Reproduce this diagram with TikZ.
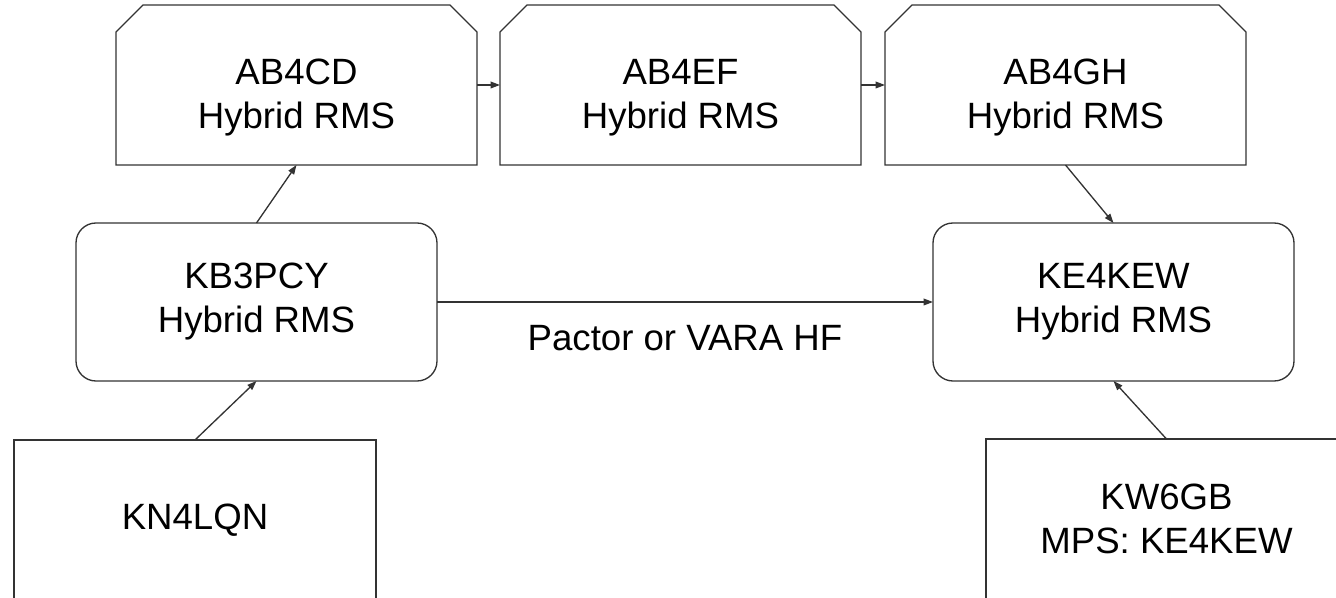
\documentclass[tikz,border=0pt]{standalone}
\usepackage{fontspec}
\setmainfont{Liberation Sans}
\usetikzlibrary{arrows.meta,calc}
\begin{document}
\begin{tikzpicture}[x=0.75pt,y=-0.75pt,
  edge/.style={draw=black!80, line width=1pt},
  arr/.style={edge, -{Triangle[length=7pt,width=5pt]}},
  box/.style={minimum width=270.75pt, minimum height=120pt, inner sep=0pt, outer sep=0pt},
  sbox/.style={box, draw=black!80, line width=1pt},
  rbox/.style={sbox, rounded corners=15pt, minimum height=118.5pt},
  txt/.style={font=\fontsize{27.45}{33}\selectfont, align=center, text=black, inner sep=0pt}]
\useasboundingbox (0,0) rectangle (1336,598);
\begin{scope}
\clip (0,0) rectangle (1336,598);
% top chamfered boxes
\foreach \n/\x/\t in {ab1/296.5/AB4CD, ab2/680.5/AB4EF, ab3/1065.5/AB4GH}{
  \node[box] (\n) at (\x,85) {};
  \draw[edge] (\n.south west) -- ($(\n.north west)+(0,27)$) -- ($(\n.north west)+(27,0)$)
     -- ($(\n.north east)+(-27,0)$) -- ($(\n.north east)+(0,27)$) -- (\n.south east) -- cycle;
  \node[txt] (\n t) at ([yshift=-9.75pt]\n.center) {\t\\Hybrid RMS};
}
% middle rounded boxes
\node[rbox, txt] (kb) at (256.5,302) {KB3PCY\\Hybrid RMS};
\node[rbox, txt] (ke) at (1113.5,302) {KE4KEW\\Hybrid RMS};
% bottom boxes
\node[sbox, txt, minimum width=271.5pt] (kn) at (195,520) {KN4LQN};
\node[sbox, txt] (kw) at (1166.5,519) {KW6GB\\MPS: KE4KEW};
% connectors
\draw[arr] (ab1.east) -- (ab2.west);
\draw[arr] (ab2.east) -- (ab3.west);
\draw[arr] (kb.north) -- (ab1.south);
\draw[arr] (ab3.south) -- (ke.north);
\draw[arr] (kn.north) -- (kb.south);
\draw[arr] (kw.north) -- (ke.south);
\draw[arr] (kb.east) -- (ke.west);
\node[txt] (lbl) at ([yshift=-27pt]$(kb.east)!0.5!(ke.west)$) {Pactor or VARA HF};
\end{scope}
\end{tikzpicture}
\end{document}
